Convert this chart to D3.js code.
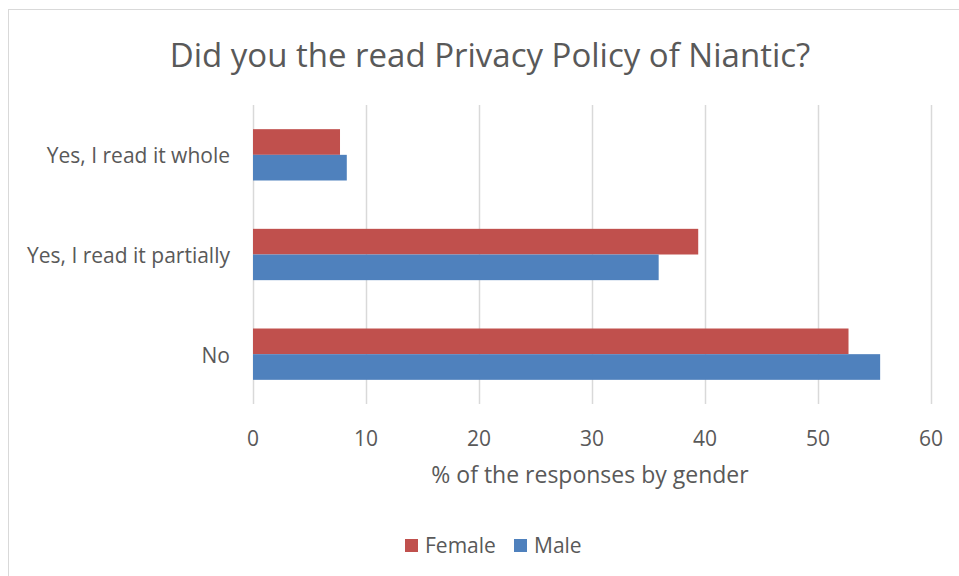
<!DOCTYPE html>
<html>
<head>
<meta charset="utf-8">
<script src="https://cdn.jsdelivr.net/npm/d3@7"></script>
<style>
  body { margin: 0; background: #fff; }
  text { font-family: "Open Sans", sans-serif; fill: #595959; }
</style>
</head>
<body>
<div id="chart"></div>
<script>
// data
let categories = ["Yes, I read it whole", "Yes, I read it partially", "No"];
let series = ["Female", "Male"];
let female = [7.7, 39.4, 52.7];
let male = [8.3, 35.9, 55.5];
let ticks = [0, 10, 20, 30, 40, 50, 60];
let colors = ["#c0504d", "#4f81bd"];

let width = 959, height = 576;
let plot = { left: 253, right: 931, top: 105, bottom: 404 };

let svg = d3.select("#chart").append("svg")
    .attr("width", width)
    .attr("height", height);

// chart frame
svg.append("rect")
    .attr("x", 8.5).attr("y", 9.5)
    .attr("width", 980).attr("height", 600)
    .style("fill", "white")
    .style("stroke", "#d9d9d9")
    .style("stroke-width", 1);

let x = d3.scaleLinear().domain([0, 60]).range([plot.left, plot.right]);
let y = d3.scaleBand().domain(categories).range([plot.top, plot.bottom]).paddingInner(0.485).paddingOuter(0.2425);
let ySub = d3.scaleBand().domain(series).range([0, y.bandwidth()]);

// gridlines
svg.selectAll()
    .data(ticks)
    .enter()
    .append("line")
    .attr("x1", d => x(d) + 0.5)
    .attr("x2", d => x(d) + 0.5)
    .attr("y1", plot.top)
    .attr("y2", plot.bottom)
    .style("stroke", "#d9d9d9")
    .style("stroke-width", 1.5);

let rows = categories.map((c, i) => ({ cat: c, values: [female[i], male[i]] }));

let g = svg.selectAll()
    .data(rows)
    .enter()
    .append("g")
    .attr("transform", d => "translate(0," + y(d.cat) + ")");

g.selectAll("rect")
    .data(d => d.values.map((v, j) => ({ s: series[j], v: v, j: j })))
    .enter()
    .append("rect")
    .attr("x", x(0))
    .attr("y", d => ySub(d.s))
    .attr("width", d => x(d.v) - x(0))
    .attr("height", ySub.bandwidth())
    .style("fill", d => colors[d.j]);

// category labels
svg.selectAll()
    .data(categories)
    .enter()
    .append("text")
    .attr("x", 230)
    .attr("y", d => y(d) + y.bandwidth() / 2 + 3)
    .attr("text-anchor", "end")
    .attr("dominant-baseline", "middle")
    .attr("font-size", "21px")
    .text(d => d);

// tick labels
svg.selectAll()
    .data(ticks)
    .enter()
    .append("text")
    .attr("x", d => x(d))
    .attr("y", 440)
    .attr("text-anchor", "middle")
    .attr("dominant-baseline", "middle")
    .attr("font-size", "21px")
    .text(d => d);

svg.append("text")
    .attr("x", 590)
    .attr("y", 477)
    .attr("text-anchor", "middle")
    .attr("dominant-baseline", "middle")
    .attr("font-size", "23px")
    .text("% of the responses by gender");

svg.append("text")
    .attr("x", 490)
    .attr("y", 58)
    .attr("text-anchor", "middle")
    .attr("dominant-baseline", "middle")
    .attr("font-size", "33px")
    .text("Did you the read Privacy Policy of Niantic?");

// legend
let legend = svg.selectAll()
    .data(series)
    .enter()
    .append("g")
    .attr("transform", (d, i) => "translate(" + (405 + i * 109) + ",539)");
legend.append("rect")
    .attr("width", 13).attr("height", 13)
    .style("fill", (d, i) => colors[i]);
legend.append("text")
    .attr("x", 20)
    .attr("y", 8)
    .attr("dominant-baseline", "middle")
    .attr("font-size", "21px")
    .text(d => d);
</script>
</body>
</html>
